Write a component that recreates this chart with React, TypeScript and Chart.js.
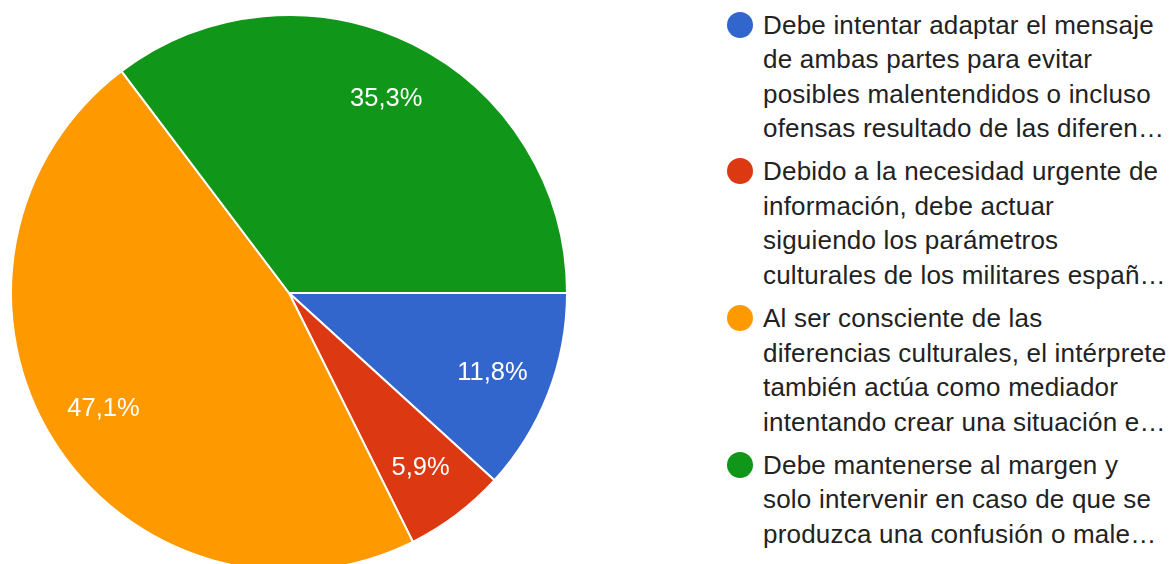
import React, { useEffect, useRef } from "react";
import { Chart, registerables } from "chart.js";

Chart.register(...registerables);

const categories: string[][] = [
  [
    "Debe intentar adaptar el mensaje",
    "de ambas partes para evitar",
    "posibles malentendidos o incluso",
    "ofensas resultado de las diferen…",
  ],
  [
    "Debido a la necesidad urgente de",
    "información, debe actuar",
    "siguiendo los parámetros",
    "culturales de los militares españ…",
  ],
  [
    "Al ser consciente de las",
    "diferencias culturales, el intérprete",
    "también actúa como mediador",
    "intentando crear una situación e…",
  ],
  [
    "Debe mantenerse al margen y",
    "solo intervenir en caso de que se",
    "produzca una confusión o male…",
  ],
];

const values: number[] = [2, 1, 8, 6];
const colors: string[] = ["#3366cc", "#dc3912", "#ff9900", "#109618"];

const FONT = "Arial, 'Liberation Sans', sans-serif";

const pieLabels = {
  id: "pieLabels",
  afterDatasetsDraw(chart: any) {
    const ctx = chart.ctx;
    const meta = chart.getDatasetMeta(0);
    const data = chart.data.datasets[0].data as number[];
    const total = data.reduce((a, b) => a + b, 0);
    ctx.save();
    ctx.fillStyle = "#ffffff";
    ctx.font = `25.5px ${FONT}`;
    ctx.textAlign = "center";
    ctx.textBaseline = "alphabetic";
    meta.data.forEach((arc: any, i: number) => {
      const { x, y, startAngle, endAngle, outerRadius } = arc.getProps(
        ["x", "y", "startAngle", "endAngle", "outerRadius"],
        true
      );
      const mid = (startAngle + endAngle) / 2;
      const r = outerRadius * 0.785;
      const lx = x + Math.cos(mid) * r;
      const ly = y + Math.sin(mid) * r;
      const txt = ((data[i] / total) * 100).toFixed(1).replace(".", ",") + "%";
      ctx.fillText(txt, lx, ly + 8);
    });
    ctx.restore();
  },
};

export default function App() {
  const ref = useRef<HTMLCanvasElement | null>(null);

  useEffect(() => {
    if (!ref.current) return;
    const chart = new Chart(ref.current, {
      type: "pie",
      data: {
        labels: categories.map((c) => c.join(" ")),
        datasets: [
          {
            data: values,
            backgroundColor: colors,
            borderColor: "#ffffff",
            borderWidth: 2,
          },
        ],
      },
      options: {
        responsive: false,
        animation: false,
        rotation: 90,
        layout: { padding: { left: 10, right: 10, top: 14, bottom: 14 } },
        plugins: {
          legend: { display: false },
          tooltip: { enabled: false },
        },
      },
      plugins: [pieLabels],
    });
    return () => chart.destroy();
  }, []);

  const lineH = 34.5;
  const entryTops = [7.7, 154.4, 301.1, 447.8];

  return (
    <div
      style={{
        position: "fixed",
        left: 0,
        top: 0,
        width: 1170,
        height: 564,
        overflow: "hidden",
        background: "#ffffff",
      }}
    >
      <canvas
        ref={ref}
        width={578}
        height={586}
        style={{ position: "absolute", left: 0, top: 0, width: 578, height: 586 }}
      />
      {categories.map((lines, i) => (
        <div key={i} style={{ position: "absolute", left: 0, top: entryTops[i] }}>
          <div
            style={{
              position: "absolute",
              left: 727,
              top: 4,
              width: 26,
              height: 26,
              borderRadius: "50%",
              background: colors[i],
            }}
          />
          <div
            style={{
              position: "absolute",
              left: 763,
              top: 0,
              font: `26px ${FONT}`,
              letterSpacing: "0.2px",
              lineHeight: `${lineH}px`,
              color: "#222222",
              whiteSpace: "pre",
            }}
          >
            {lines.map((l, j) => (
              <div key={j}>{l}</div>
            ))}
          </div>
        </div>
      ))}
    </div>
  );
}
